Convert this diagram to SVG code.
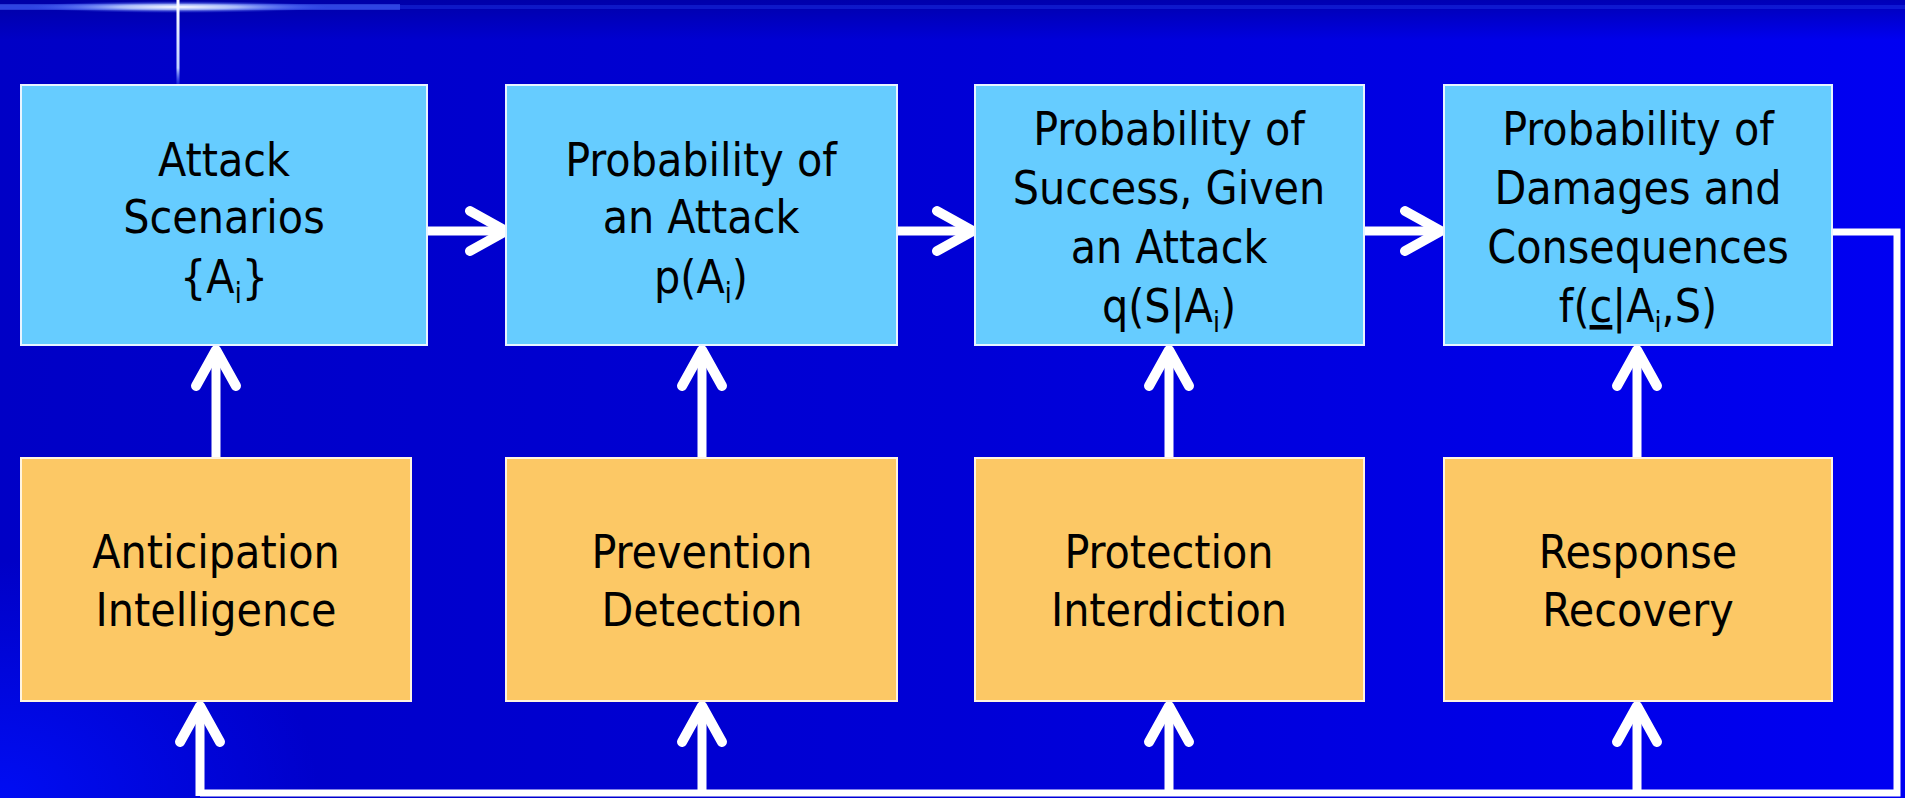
<svg xmlns="http://www.w3.org/2000/svg" width="1905" height="798" viewBox="0 0 1905 798">
  <defs>
    <linearGradient id="bg" x1="0" y1="0" x2="1" y2="0">
      <stop offset="0" stop-color="#0000c6"/>
      <stop offset="0.5" stop-color="#0000d6"/>
      <stop offset="1" stop-color="#0000f2"/>
    </linearGradient>
    <linearGradient id="topband" x1="0" y1="0" x2="0" y2="1">
      <stop offset="0" stop-color="#000090" stop-opacity="0.6"/>
      <stop offset="1" stop-color="#000090" stop-opacity="0"/>
    </linearGradient>
    <radialGradient id="blcorner" cx="0" cy="1" r="1">
      <stop offset="0" stop-color="#0010ff"/>
      <stop offset="1" stop-color="#0010ff" stop-opacity="0"/>
    </radialGradient>
    <radialGradient id="glow" cx="0.5" cy="0.5" r="0.5">
      <stop offset="0" stop-color="#ffffff"/>
      <stop offset="0.4" stop-color="#c8d8ff" stop-opacity="0.8"/>
      <stop offset="1" stop-color="#4060ff" stop-opacity="0"/>
    </radialGradient>
    <linearGradient id="vline" x1="0" y1="0" x2="0" y2="1">
      <stop offset="0" stop-color="#ffffff"/>
      <stop offset="0.8" stop-color="#c0d0ff"/>
      <stop offset="1" stop-color="#4060ff" stop-opacity="0.3"/>
    </linearGradient>
    <marker id="chevH" markerUnits="userSpaceOnUse" viewBox="-50 -30 60 60" markerWidth="60" markerHeight="60" refX="0" refY="0" orient="auto" overflow="visible">
      <path d="M -36 -20 L 0 0 L -36 20" fill="none" stroke="#ffffff" stroke-width="10" stroke-linecap="round" stroke-linejoin="round"/>
    </marker>
    <marker id="chevV" markerUnits="userSpaceOnUse" viewBox="-50 -30 60 60" markerWidth="60" markerHeight="60" refX="0" refY="0" orient="auto" overflow="visible">
      <path d="M -36 -20 L 0 0 L -36 20" fill="none" stroke="#ffffff" stroke-width="10" stroke-linecap="round" stroke-linejoin="round"/>
    </marker>
    <style>
      .top { fill: #66ccff; stroke: #e8f4ff; stroke-width: 2; }
      .bot { fill: #fcc865; stroke: #fff4e0; stroke-width: 2; }
      .t { font-family: "DejaVu Sans Condensed", "DejaVu Sans", sans-serif; font-stretch: condensed; font-size: 46px; fill: #000000; text-anchor: middle; }
      .sub { font-size: 28px; }
      .arrow { stroke: #ffffff; stroke-width: 9; fill: none; }
      .fb { stroke: #ffffff; stroke-width: 7; fill: none; stroke-linejoin: miter; }
    </style>
  </defs>

  <!-- background -->
  <rect x="0" y="0" width="1905" height="798" fill="url(#bg)"/>
  <rect x="0" y="0" width="1905" height="40" fill="url(#topband)"/>
  <rect x="0" y="560" width="320" height="238" fill="url(#blcorner)" opacity="0.8"/>
  <!-- top-left decoration -->
  <rect x="0" y="5" width="1905" height="4" fill="#3050ff" opacity="0.3"/>
  <rect x="0" y="4" width="400" height="6" fill="#5070ff" opacity="0.5"/>
  <ellipse cx="178" cy="7" rx="150" ry="6" fill="url(#glow)"/>
  <rect x="176.5" y="0" width="3" height="85" fill="url(#vline)"/>

  <!-- connectors -->
  <g id="connectors">
    <line class="arrow" x1="427" y1="231" x2="506" y2="231" marker-end="url(#chevH)"/>
    <line class="arrow" x1="897" y1="231" x2="973" y2="231" marker-end="url(#chevH)"/>
    <line class="arrow" x1="1364" y1="231" x2="1441" y2="231" marker-end="url(#chevH)"/>

    <line class="arrow" x1="216" y1="458" x2="216" y2="350" marker-end="url(#chevV)"/>
    <line class="arrow" x1="702" y1="458" x2="702" y2="350" marker-end="url(#chevV)"/>
    <line class="arrow" x1="1169" y1="458" x2="1169" y2="350" marker-end="url(#chevV)"/>
    <line class="arrow" x1="1637" y1="458" x2="1637" y2="350" marker-end="url(#chevV)"/>

    <polyline class="fb" points="1832,232 1897,232 1897,793 200,793"/>
    <line class="arrow" x1="200" y1="796" x2="200" y2="706" marker-end="url(#chevV)"/>
    <line class="arrow" x1="702" y1="796" x2="702" y2="706" marker-end="url(#chevV)"/>
    <line class="arrow" x1="1169" y1="796" x2="1169" y2="706" marker-end="url(#chevV)"/>
    <line class="arrow" x1="1637" y1="796" x2="1637" y2="706" marker-end="url(#chevV)"/>
  </g>

  <!-- top row -->
  <g id="attack-scenarios">
    <rect class="top" x="21" y="85" width="406" height="260"/>
    <text class="t" x="224" y="176">Attack</text>
    <text class="t" x="224" y="233">Scenarios</text>
    <text class="t" x="224" y="293">{A<tspan class="sub" dy="10">i</tspan><tspan dy="-10">}</tspan></text>
  </g>
  <g id="prob-attack">
    <rect class="top" x="506" y="85" width="391" height="260"/>
    <text class="t" x="701" y="176">Probability of</text>
    <text class="t" x="701" y="233">an Attack</text>
    <text class="t" x="701" y="293">p(A<tspan class="sub" dy="10">i</tspan><tspan dy="-10">)</tspan></text>
  </g>
  <g id="prob-success">
    <rect class="top" x="975" y="85" width="389" height="260"/>
    <text class="t" x="1169" y="145">Probability of</text>
    <text class="t" x="1169" y="204">Success, Given</text>
    <text class="t" x="1169" y="263">an Attack</text>
    <text class="t" x="1169" y="322">q(S|A<tspan class="sub" dy="10">i</tspan><tspan dy="-10">)</tspan></text>
  </g>
  <g id="prob-damages">
    <rect class="top" x="1444" y="85" width="388" height="260"/>
    <text class="t" x="1638" y="145">Probability of</text>
    <text class="t" x="1638" y="204">Damages and</text>
    <text class="t" x="1638" y="263">Consequences</text>
    <text class="t" x="1638" y="322">f(<tspan text-decoration="underline">c</tspan>|A<tspan class="sub" dy="10">i</tspan><tspan dy="-10">,S)</tspan></text>
  </g>

  <!-- bottom row -->
  <g id="anticipation">
    <rect class="bot" x="21" y="458" width="390" height="243"/>
    <text class="t" x="216" y="568">Anticipation</text>
    <text class="t" x="216" y="626">Intelligence</text>
  </g>
  <g id="prevention">
    <rect class="bot" x="506" y="458" width="391" height="243"/>
    <text class="t" x="702" y="568">Prevention</text>
    <text class="t" x="702" y="626">Detection</text>
  </g>
  <g id="protection">
    <rect class="bot" x="975" y="458" width="389" height="243"/>
    <text class="t" x="1169" y="568">Protection</text>
    <text class="t" x="1169" y="626">Interdiction</text>
  </g>
  <g id="response">
    <rect class="bot" x="1444" y="458" width="388" height="243"/>
    <text class="t" x="1638" y="568">Response</text>
    <text class="t" x="1638" y="626">Recovery</text>
  </g>
</svg>
